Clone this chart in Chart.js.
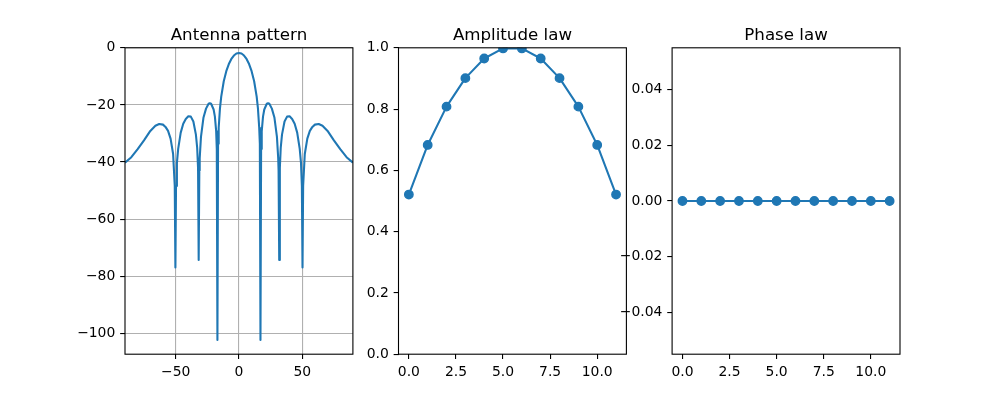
<!DOCTYPE html>
<html>
<head>
<meta charset="utf-8">
<script src="https://cdn.jsdelivr.net/npm/chart.js@4.4.1/dist/chart.umd.min.js"></script>
<style>
  html, body { margin: 0; padding: 0; background: #fff; }
  #fig { position: relative; width: 1000px; height: 398px; overflow: hidden; background: #fff; }
  #fig canvas { position: absolute; top: 0; }
</style>
</head>
<body>
<div id="fig">
  <canvas id="pattern" width="365" height="398" style="left:0px"></canvas>
  <canvas id="amplitude" width="300" height="398" style="left:340px"></canvas>
  <canvas id="phase" width="310" height="398" style="left:610px"></canvas>
</div>
<script>
// Antenna pattern (dB) vs angle (deg)
const thetaDeg = [
  -90, -85, -80, -75, -70, -66, -63, -60, -58, -56,
  -54, -52, -50.7, -50.2, -49.7, -49, -48, -46, -44, -42,
  -40, -38, -36, -34, -33, -32.3, -31.8, -31.3, -31, -30,
  -28, -26, -24, -23, -22, -20, -19, -18, -17.5, -17,
  -16.5, -16, -15, -14, -12, -10, -8, -6, -4, -2,
  0,
  2, 4, 6, 8, 10, 12, 14, 15, 16, 16.5,
  17, 17.5, 18, 19, 20, 22, 23, 24, 26, 28,
  30, 31, 31.3, 31.8, 32.3, 33, 34, 36, 38, 40,
  42, 44, 46, 48, 49, 49.7, 50.2, 50.7, 52, 54,
  56, 58, 60, 63, 66, 70, 75, 80, 85, 90,
];
const gainDb = [
  -40.2, -38.3, -35.5, -32.4, -29.1, -27.3, -26.7, -26.9, -27.7, -29.1,
  -31.8, -37.2, -48.4, -76.9, -48.4, -40.3, -35.4, -29.7, -26.6, -24.9,
  -24.0, -24.1, -25.8, -30.4, -35.0, -42.1, -74.3, -43.0, -38.7, -31.2,
  -24.4, -21.3, -19.6, -19.4, -19.6, -21.6, -24.1, -29.2, -35.4, -102.3,
  -33.6, -28.0, -21.2, -17.1, -11.7, -8.2, -5.7, -3.9, -2.7, -2.0,
  -1.8,
  -2.0, -2.7, -3.9, -5.7, -8.2, -11.7, -17.1, -21.2, -28.0, -33.6,
  -102.3, -35.4, -29.2, -24.1, -21.6, -19.6, -19.4, -19.6, -21.3, -24.4,
  -31.2, -38.7, -43.0, -74.3, -42.1, -35.0, -30.4, -25.8, -24.1, -24.0,
  -24.9, -26.6, -29.7, -35.4, -40.3, -48.4, -76.9, -48.4, -37.2, -31.8,
  -29.1, -27.7, -26.9, -26.7, -27.3, -29.1, -32.4, -35.5, -38.3, -40.2,
];

// Element laws
const elementIndex = [0, 1, 2, 3, 4, 5, 6, 7, 8, 9, 10, 11];
const amplitude = [0.521, 0.683, 0.808, 0.901, 0.965, 0.998, 0.998, 0.965, 0.901, 0.808, 0.683, 0.521];
const phase = [0, 0, 0, 0, 0, 0, 0, 0, 0, 0, 0, 0];

// Tick values and labels
const patternXTicks = [-50, 0, 50];
const patternXLabels = ['\u221250', '0', '50'];
const patternYTicks = [-100, -80, -60, -40, -20, 0];
const patternYLabels = ['\u2212100', '\u221280', '\u221260', '\u221240', '\u221220', '0'];
const lawXTicks = [0, 2.5, 5, 7.5, 10];
const lawXLabels = ['0.0', '2.5', '5.0', '7.5', '10.0'];
const amplitudeYTicks = [0, 0.2, 0.4, 0.6, 0.8, 1.0];
const amplitudeYLabels = ['0.0', '0.2', '0.4', '0.6', '0.8', '1.0'];
const phaseYTicks = [-0.04, -0.02, 0, 0.02, 0.04];
const phaseYLabels = ['\u22120.04', '\u22120.02', '0.00', '0.02', '0.04'];

const BLUE = '#1f77b4';
const FONT = 'DejaVu Sans';
const TICK_LEN = 4.86;
const AX_TOP = 47.8;
const AX_BOTTOM = 354.2;

// frame + title, matplotlib style
const framePlugin = {
    id: 'frame',
    afterDraw(chart, args, opts) {
        const { ctx, chartArea: a } = chart;
        ctx.save();
        ctx.strokeStyle = '#000';
        ctx.lineWidth = 1.1;
        ctx.strokeRect(a.left, a.top, a.right - a.left, a.bottom - a.top);
        ctx.fillStyle = '#000';
        ctx.font = `16.67px "${FONT}"`;
        ctx.textAlign = 'center';
        ctx.textBaseline = 'alphabetic';
        ctx.fillText(opts.text, (a.left + a.right) / 2, a.top - 8.3);
        ctx.restore();
    },
};

function axis(min, max, values, labels, fitSize, horizontal, showGrid) {
    return {
        type: 'linear',
        min: min,
        max: max,
        afterBuildTicks: (scale) => { scale.ticks = values.map(v => ({ value: v })); },
        afterFit: (scale) => {
            if (horizontal) scale.height = fitSize; else scale.width = fitSize;
        },
        ticks: {
            autoSkip: false,
            maxRotation: 0,
            padding: 4.86,
            color: '#000',
            font: { family: FONT, size: 13.9 },
            callback: (v, i) => labels[i],
        },
        grid: {
            display: true,
            drawOnChartArea: showGrid,
            color: '#b0b0b0',
            lineWidth: 1.1,
            tickColor: '#000',
            tickWidth: 1.1,
            tickLength: TICK_LEN,
        },
        border: { display: false },
    };
}

function makeChart(id, left, right, dataset, x, y, title) {
    const canvas = document.getElementById(id);
    const offset = parseFloat(canvas.style.left);
    return new Chart(canvas, {
        type: 'line',
        data: { datasets: [dataset] },
        options: {
            responsive: false,
            animation: false,
            events: [],
            layout: {
                autoPadding: false,
                padding: { top: AX_TOP, bottom: 0, left: 0, right: canvas.width - (right - offset) },
            },
            scales: {
                x: axis(x.min, x.max, x.ticks, x.labels, 398 - AX_BOTTOM, true, x.grid),
                y: axis(y.min, y.max, y.ticks, y.labels, left - offset, false, y.grid),
            },
            plugins: {
                legend: { display: false },
                tooltip: { enabled: false },
                frame: { text: title },
            },
        },
        plugins: [framePlugin],
    });
}

function series(xs, ys, markers) {
    return {
        data: xs.map((v, i) => ({ x: v, y: ys[i] })),
        borderColor: BLUE,
        backgroundColor: BLUE,
        borderWidth: 2.08,
        borderJoinStyle: 'round',
        tension: 0,
        clip: 0,
        pointRadius: markers ? 4.2 : 0,
        pointBorderWidth: markers ? 1.4 : 0,
        pointBorderColor: BLUE,
        pointBackgroundColor: BLUE,
    };
}

makeChart('pattern', 125, 352.9, series(thetaDeg, gainDb, false),
    { min: -90, max: 90, ticks: patternXTicks, labels: patternXLabels, grid: true },
    { min: -107.3, max: 0, ticks: patternYTicks, labels: patternYLabels, grid: true },
    'Antenna pattern');

makeChart('amplitude', 398.5, 626.4, series(elementIndex, amplitude, true),
    { min: -0.55, max: 11.55, ticks: lawXTicks, labels: lawXLabels, grid: false },
    { min: 0, max: 1, ticks: amplitudeYTicks, labels: amplitudeYLabels, grid: false },
    'Amplitude law');

makeChart('phase', 672.1, 900, series(elementIndex, phase, true),
    { min: -0.55, max: 11.55, ticks: lawXTicks, labels: lawXLabels, grid: false },
    { min: -0.055, max: 0.055, ticks: phaseYTicks, labels: phaseYLabels, grid: false },
    'Phase law');
</script>
</body>
</html>
